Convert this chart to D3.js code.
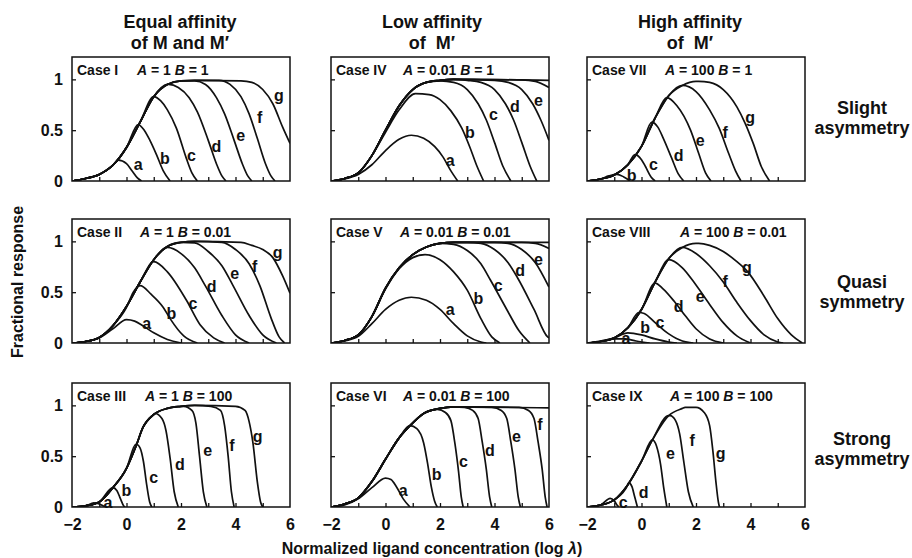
<!DOCTYPE html>
<html>
<head>
<meta charset="utf-8">
<script src="https://cdn.jsdelivr.net/npm/d3@7"></script>
<style>
  body { margin: 0; background: #fff; }
  text { font-family: "Liberation Sans", Arial, sans-serif; fill: #111; white-space: pre; }
</style>
</head>
<body>
<div id="chartDiv"></div>
<script>
// tick values and titles
var xTicks = [-2, 0, 2, 4, 6];
var yTicks = [0, 0.5, 1];
var colTitles = [["Equal affinity", "of M and M\u2032"], ["Low affinity", "of  M\u2032"], ["High affinity", "of  M\u2032"]];
var rowTitles = [["Slight", "asymmetry"], ["Quasi", "symmetry"], ["Strong", "asymmetry"]];
var caseNames = ["Case I", "Case II", "Case III", "Case IV", "Case V", "Case VI", "Case VII", "Case VIII", "Case IX"];
var caseA = ["1", "1", "1", "0.01", "0.01", "0.01", "100", "100", "100"];
var caseB = ["1", "0.01", "100", "1", "0.01", "100", "1", "0.01", "100"];

// each curve = shared rising part (rise) up to its first point, then its own points
var riseI = [[-2,0],[-1.5,0.025],[-1,0.065],[-0.5,0.155],[0,0.33],[0.5,0.58],[1,0.83],[1.5,0.95],[2,0.985],[2.5,0.99]];
var curvesI = [
  ["a", [[-0.3,0.205],[0,0.17],[0.2,0.1],[0.4,0.03],[0.55,0]]],
  ["b", [[0.43,0.555],[0.65,0.5],[0.86,0.4],[1.1,0.26],[1.35,0.1],[1.6,0]]],
  ["c", [[1,0.83],[1.25,0.79],[1.5,0.7],[1.83,0.52],[2.2,0.22],[2.4,0.08],[2.6,0]]],
  ["d", [[1.55,0.95],[1.9,0.92],[2.3,0.82],[2.6,0.68],[3,0.4],[3.3,0.17],[3.5,0.05],[3.65,0]]],
  ["e", [[2.5,0.985],[2.9,0.95],[3.3,0.82],[3.6,0.66],[3.95,0.4],[4.25,0.17],[4.45,0.05],[4.6,0]]],
  ["f", [[3.4,0.99],[3.8,0.95],[4.2,0.83],[4.5,0.66],[4.8,0.42],[5.1,0.17],[5.3,0.05],[5.45,0]]],
  ["g", [[4.2,0.985],[4.6,0.97],[5,0.9],[5.37,0.76],[5.73,0.53],[6,0.37]]]
];
var labelsI = [["a",0.43,0.16],["b",1.41,0.22],["c",2.38,0.25],["d",3.3,0.34],["e",4.19,0.45],["f",4.89,0.63],["g",5.59,0.84]];

var riseII = [[-2,0],[-1.5,0.015],[-1,0.055],[-0.5,0.17],[0,0.36],[0.5,0.6],[1,0.82],[1.5,0.95],[2,0.99],[2.5,1]];
var curvesII = [
  ["a", [[-2,0],[-1.5,0.015],[-1,0.05],[-0.5,0.14],[0,0.23],[0.3,0.215],[0.6,0.17],[1,0.1],[1.5,0.035],[2,0]]],
  ["b", [[0,0.35],[0.25,0.5],[0.5,0.565],[0.9,0.48],[1.35,0.35],[1.6,0.24],[2.1,0.07],[2.6,0]]],
  ["c", [[1,0.8],[1.5,0.7],[2.2,0.42],[2.7,0.18],[3.2,0.05],[3.6,0]]],
  ["d", [[1.5,0.94],[2,0.88],[2.5,0.74],[2.9,0.56],[3.5,0.27],[4,0.08],[4.5,0]]],
  ["e", [[2.5,0.985],[3,0.9],[3.5,0.76],[3.9,0.57],[4.5,0.27],[5,0.08],[5.5,0]]],
  ["f", [[3.5,0.99],[4,0.92],[4.5,0.78],[4.9,0.56],[5.3,0.25],[5.6,0.06],[5.8,0]]],
  ["g", [[4.2,0.99],[4.6,0.96],[5,0.92],[5.37,0.84],[5.73,0.66],[6,0.49]]]
];
var labelsII = [["a",0.74,0.19],["b",1.65,0.29],["c",2.44,0.39],["d",3.12,0.56],["e",3.97,0.68],["f",4.7,0.75],["g",5.55,0.89]];

var riseIII = [[-2,0],[-1.5,0.012],[-1,0.05],[-0.5,0.19],[0,0.38],[0.35,0.6],[0.6,0.78],[1,0.91],[1.5,0.97],[2,0.99],[2.5,1]];
var curvesIII = [
  ["a", [[-1.2,0.04],[-1,0.03],[-0.85,0.01],[-0.75,0]]],
  ["b", [[-0.5,0.19],[-0.35,0.16],[-0.22,0.08],[-0.1,0.01],[-0.05,0]]],
  ["c", [[0.35,0.62],[0.5,0.58],[0.62,0.45],[0.74,0.22],[0.85,0.05],[0.93,0]]],
  ["d", [[1.05,0.92],[1.3,0.87],[1.45,0.75],[1.6,0.48],[1.75,0.15],[1.9,0]]],
  ["e", [[2.1,0.99],[2.4,0.95],[2.55,0.82],[2.68,0.5],[2.82,0.15],[2.95,0]]],
  ["f", [[3.1,0.99],[3.45,0.95],[3.6,0.8],[3.73,0.5],[3.85,0.15],[3.95,0]]],
  ["g", [[4,0.99],[4.35,0.95],[4.5,0.84],[4.64,0.63],[4.8,0.25],[4.92,0.05],[5,0]]]
];
var labelsIII = [["a",-0.68,0.05],["b",0,0.16],["c",1,0.29],["d",1.96,0.42],["e",2.98,0.56],["f",3.87,0.61],["g",4.81,0.69]];

var riseIV = [[-2,0],[-1.5,0.025],[-1,0.08],[-0.5,0.25],[0,0.5],[0.5,0.74],[1,0.9],[1.5,0.97],[2,0.99],[2.5,1]];
var curvesIV = [
  ["a", [[-2,0],[-1.5,0.02],[-1,0.065],[-0.5,0.16],[0,0.3],[0.5,0.41],[0.95,0.45],[1.4,0.42],[1.8,0.34],[2.1,0.24],[2.4,0.1],[2.65,0]]],
  ["b", [[0,0.48],[0.5,0.7],[1.1,0.86],[1.6,0.85],[2,0.8],[2.4,0.69],[2.8,0.52],[3.1,0.33],[3.35,0.15],[3.6,0]]],
  ["c", [[2,0.985],[2.5,0.97],[3,0.9],[3.4,0.76],[3.7,0.6],[4,0.38],[4.3,0.15],[4.6,0]]],
  ["d", [[3,0.99],[3.5,0.97],[4,0.9],[4.4,0.76],[4.7,0.6],[5,0.38],[5.3,0.15],[5.55,0]]],
  ["e", [[4,0.99],[4.5,0.97],[5,0.9],[5.4,0.76],[5.7,0.6],[6,0.4]]],
  ["f", [[5,0.995],[5.5,0.98],[6,0.92]]],
  ["g", [[3,1],[6,0.99]]]
];
var labelsIV = [["a",2.37,0.2],["b",3.1,0.48],["c",3.96,0.66],["d",4.75,0.73],["e",5.61,0.79]];

var riseV = [[-2,0],[-1.5,0.025],[-1,0.08],[-0.5,0.26],[0,0.54],[0.5,0.74],[1,0.87],[1.5,0.945],[2,0.98],[2.5,0.99]];
var curvesV = [
  ["a", [[-2,0],[-1.5,0.02],[-1,0.065],[-0.5,0.19],[0,0.33],[0.5,0.42],[0.95,0.45],[1.5,0.42],[2,0.33],[2.5,0.19],[3,0.07],[3.5,0.01],[3.7,0]]],
  ["b", [[0,0.53],[0.5,0.73],[1,0.84],[1.45,0.87],[2,0.82],[2.5,0.7],[3,0.52],[3.5,0.24],[3.9,0.06],[4.2,0]]],
  ["c", [[2,0.98],[2.5,0.97],[3,0.91],[3.5,0.78],[3.85,0.62],[4.45,0.33],[4.9,0.12],[5.3,0]]],
  ["d", [[3,0.99],[3.5,0.98],[4,0.92],[4.5,0.79],[4.85,0.64],[5.45,0.33],[5.95,0.06],[6,0.05]]],
  ["e", [[4,0.99],[4.5,0.98],[5,0.92],[5.5,0.79],[6,0.55]]],
  ["f", [[5,0.99],[5.5,0.98],[6,0.93]]],
  ["g", [[3,0.99],[6,0.99]]]
];
var labelsV = [["a",2.37,0.33],["b",3.41,0.44],["c",4.14,0.57],["d",4.94,0.71],["e",5.61,0.82]];

var riseVI = [[-2,0],[-1.5,0.03],[-1,0.09],[-0.5,0.25],[0,0.47],[0.5,0.68],[0.9,0.8],[1.4,0.92],[2,0.97],[2.5,0.985]];
var curvesVI = [
  ["a", [[-2,0],[-1.5,0.02],[-1,0.08],[-0.5,0.19],[0,0.285],[0.2,0.27],[0.4,0.2],[0.65,0.08],[0.9,0]]],
  ["b", [[0.9,0.8],[1.15,0.77],[1.4,0.63],[1.55,0.42],[1.68,0.2],[1.8,0.06],[1.9,0]]],
  ["c", [[1.9,0.96],[2.2,0.93],[2.4,0.85],[2.55,0.62],[2.68,0.35],[2.78,0.1],[2.85,0]]],
  ["d", [[2.9,0.98],[3.2,0.95],[3.4,0.87],[3.55,0.64],[3.7,0.37],[3.82,0.1],[3.9,0]]],
  ["e", [[3.9,0.98],[4.25,0.95],[4.45,0.87],[4.6,0.64],[4.75,0.37],[4.87,0.1],[4.95,0]]],
  ["f", [[4.9,0.98],[5.25,0.95],[5.45,0.87],[5.6,0.64],[5.75,0.37],[5.86,0.1],[5.93,0]]],
  ["g", [[3,0.985],[6,0.975]]]
];
var labelsVI = [["a",0.65,0.16],["b",1.88,0.32],["c",2.86,0.45],["d",3.83,0.56],["e",4.81,0.69],["f",5.67,0.81]];

var riseVII = [[-2,0],[-1.5,0.02],[-1,0.06],[-0.5,0.16],[0,0.34],[0.5,0.62],[1,0.84],[1.5,0.94],[2,0.98],[2.5,0.985]];
var curvesVII = [
  ["b", [[-1.2,0.05],[-0.9,0.066],[-0.65,0.04],[-0.42,0]]],
  ["c", [[-0.24,0.26],[0,0.21],[0.15,0.14],[0.35,0.04],[0.5,0]]],
  ["d", [[0.38,0.58],[0.6,0.53],[0.8,0.42],[1.1,0.23],[1.35,0.07],[1.55,0]]],
  ["e", [[0.93,0.82],[1.3,0.74],[1.8,0.5],[2.1,0.27],[2.35,0.08],[2.55,0]]],
  ["f", [[1.5,0.94],[2,0.88],[2.5,0.7],[2.85,0.52],[3.2,0.27],[3.45,0.1],[3.65,0]]],
  ["g", [[2.1,0.98],[2.5,0.97],[3,0.9],[3.5,0.73],[3.8,0.57],[4.1,0.37],[4.4,0.14],[4.7,0]]]
];
var labelsVII = [["b",-0.36,0.06],["c",0.44,0.16],["d",1.36,0.25],["e",2.15,0.4],["f",3.07,0.48],["g",3.99,0.63]];

var riseVIII = [[-2,0],[-1.5,0.015],[-1,0.05],[-0.5,0.15],[0,0.33],[0.5,0.6],[1,0.83],[1.5,0.94],[2,0.98],[2.5,0.98]];
var curvesVIII = [
  ["a", [[-2,0],[-1.5,0.02],[-1,0.04],[-0.6,0.04],[-0.2,0.02],[0.3,0]]],
  ["b", [[-2,0],[-1.5,0.015],[-1,0.05],[-0.5,0.1],[0,0.08],[0.5,0.04],[1,0.01],[1.3,0]]],
  ["c", [[-0.1,0.3],[0.1,0.29],[0.5,0.2],[1,0.09],[1.5,0.02],[1.9,0]]],
  ["d", [[0.5,0.59],[0.8,0.53],[1.2,0.41],[1.6,0.27],[2,0.14],[2.5,0.04],[3,0]]],
  ["e", [[1,0.82],[1.5,0.74],[2,0.57],[2.5,0.38],[3,0.2],[3.5,0.07],[4,0]]],
  ["f", [[1.5,0.94],[2,0.88],[2.5,0.76],[3,0.6],[3.5,0.4],[4,0.22],[4.5,0.08],[5,0.01],[5.2,0]]],
  ["g", [[2.1,0.98],[2.5,0.96],[3,0.9],[3.5,0.8],[3.9,0.7],[4.5,0.46],[5,0.24],[5.5,0.08],[5.9,0]]]
];
var labelsVIII = [["a",-0.57,0.05],["b",0.13,0.15],["c",0.68,0.2],["d",1.36,0.36],["e",2.15,0.46],["f",3.07,0.61],["g",3.87,0.74]];

var riseIX = [[-2,0],[-1.5,0.02],[-1,0.07],[-0.5,0.22],[0,0.45],[0.4,0.66],[1,0.9],[1.5,0.97],[2,0.99]];
var curvesIX = [
  ["c", [[-1.15,0.085],[-1,0.06],[-0.9,0.02],[-0.83,0]]],
  ["d", [[-0.47,0.24],[-0.35,0.2],[-0.25,0.1],[-0.15,0]]],
  ["e", [[0.4,0.66],[0.55,0.6],[0.7,0.42],[0.82,0.18],[0.93,0]]],
  ["f", [[1.05,0.9],[1.25,0.85],[1.4,0.72],[1.55,0.45],[1.72,0.15],[1.9,0]]],
  ["g", [[1.6,0.98],[2,0.98],[2.3,0.93],[2.5,0.8],[2.62,0.55],[2.73,0.25],[2.82,0.05],[2.86,0]]]
];
var labelsIX = [["c",-0.67,0.05],["d",0.08,0.14],["e",1.06,0.53],["f",1.86,0.66],["g",2.9,0.53]];

var rises = [riseI, riseII, riseIII, riseIV, riseV, riseVI, riseVII, riseVIII, riseIX];
var curveSets = [curvesI, curvesII, curvesIII, curvesIV, curvesV, curvesVI, curvesVII, curvesVIII, curvesIX];
var labelSets = [labelsI, labelsII, labelsIII, labelsIV, labelsV, labelsVI, labelsVII, labelsVIII, labelsIX];

// layout
var width = 912, height = 558;
var colLeft = [72, 331, 587], rowTop = [57, 219, 383];
var pw = 218, ph = 124;
var aOffset = [65, 68, 73, 72, 69, 72, 78, 93, 83];

var svg = d3.select("#chartDiv").append("svg")
    .attr("width", width)
    .attr("height", height);

var x = d3.scaleLinear().domain([-2, 6]).range([0, pw]);
var y = d3.scaleLinear().domain([0, 1.22]).range([ph, 0]);

var line = d3.line()
    .x(function (d) { return x(d[0]); })
    .y(function (d) { return y(d[1]); })
    .curve(d3.curveMonotoneX);

var minus = function (d) { return d < 0 ? "\u2212" + Math.abs(d) : String(d); };

caseNames.forEach(function (name, i) {
    var col = Math.floor(i / 3), row = i % 3;
    var g = svg.append("g")
        .attr("transform", "translate(" + colLeft[col] + "," + rowTop[row] + ")");

    g.append("defs").append("clipPath").attr("id", "clip" + i)
        .append("rect").attr("width", pw).attr("height", ph);

    // curves
    var rise = rises[i];
    g.append("g").attr("clip-path", "url(#clip" + i + ")")
        .selectAll("path")
        .data(curveSets[i])
        .enter().append("path")
        .attr("d", function (c) {
            var start = c[1][0][0];
            return line(rise.filter(function (p) { return p[0] < start; }).concat(c[1]));
        })
        .attr("fill", "none")
        .attr("stroke", "#111")
        .attr("stroke-width", 1.7);

    // curve letters
    g.selectAll("text.lab")
        .data(labelSets[i])
        .enter().append("text")
        .attr("class", "lab")
        .attr("x", function (d) { return x(d[1]); })
        .attr("y", function (d) { return y(d[2]); })
        .attr("text-anchor", "middle")
        .attr("dy", "0.35em")
        .style("font-size", "16px")
        .style("font-weight", "bold")
        .text(function (d) { return d[0]; });

    // inner ticks
    var bx = g.append("g").attr("transform", "translate(0," + ph + ")")
        .call(d3.axisBottom(x).tickValues(d3.range(-1, 6)).tickSize(-4).tickFormat(""));
    bx.select(".domain").remove();
    var ly = g.append("g")
        .call(d3.axisLeft(y).tickValues([0.5, 1]).tickSize(-4).tickFormat(""));
    ly.select(".domain").remove();
    g.selectAll(".tick line").attr("stroke", "#111").attr("stroke-width", 1.3);

    // frame
    g.append("rect")
        .attr("width", pw).attr("height", ph)
        .attr("fill", "none")
        .attr("stroke", "#111")
        .attr("stroke-width", 1.5);

    // case label
    var t = g.append("text").attr("x", 5).attr("y", 17.5)
        .style("font-size", "14px").style("font-weight", "bold");
    t.append("tspan").text(name);
    t.append("tspan").attr("x", aOffset[i]).style("font-style", "italic").text("A");
    t.append("tspan").text(" = " + caseA[i] + " ");
    t.append("tspan").style("font-style", "italic").text("B");
    t.append("tspan").text(" = " + caseB[i]);

    // tick labels
    if (row === 2) {
        var xl = g.append("g").attr("transform", "translate(0," + ph + ")")
            .call(d3.axisBottom(x).tickValues(xTicks).tickSize(0).tickPadding(12).tickFormat(minus));
        xl.select(".domain").remove();
        xl.selectAll("text").style("font-size", "16px").style("font-weight", "bold")
            .style("font-family", "'Liberation Sans', Arial, sans-serif").attr("fill", "#111");
    }
    if (col === 0) {
        var yl = g.append("g")
            .call(d3.axisLeft(y).tickValues(yTicks).tickSize(0).tickPadding(9).tickFormat(d3.format("")));
        yl.select(".domain").remove();
        yl.selectAll("text").style("font-size", "16px").style("font-weight", "bold")
            .style("font-family", "'Liberation Sans', Arial, sans-serif").attr("fill", "#111");
    }
});

// column titles
var colCx = [180, 432, 690];
colTitles.forEach(function (lines, c) {
    lines.forEach(function (s, k) {
        svg.append("text").attr("x", colCx[c]).attr("y", 28 + k * 21)
            .attr("text-anchor", "middle")
            .style("font-size", "18px").style("font-weight", "bold")
            .text(s);
    });
});

// row titles
var rowBase = [114, 288, 445];
rowTitles.forEach(function (lines, r) {
    lines.forEach(function (s, k) {
        svg.append("text").attr("x", 862).attr("y", rowBase[r] + k * 19.5)
            .attr("text-anchor", "middle")
            .style("font-size", "18px").style("font-weight", "bold")
            .text(s);
    });
});

// axis titles
svg.append("text")
    .attr("transform", "translate(23,282) rotate(-90)")
    .attr("text-anchor", "middle")
    .style("font-size", "16px").style("font-weight", "bold")
    .text("Fractional response");

var xt = svg.append("text").attr("x", 432).attr("y", 554)
    .attr("text-anchor", "middle")
    .style("font-size", "16px").style("font-weight", "bold");
xt.append("tspan").text("Normalized ligand concentration (log ");
xt.append("tspan").style("font-style", "italic").text("\u03bb");
xt.append("tspan").text(")");
</script>
</body>
</html>
